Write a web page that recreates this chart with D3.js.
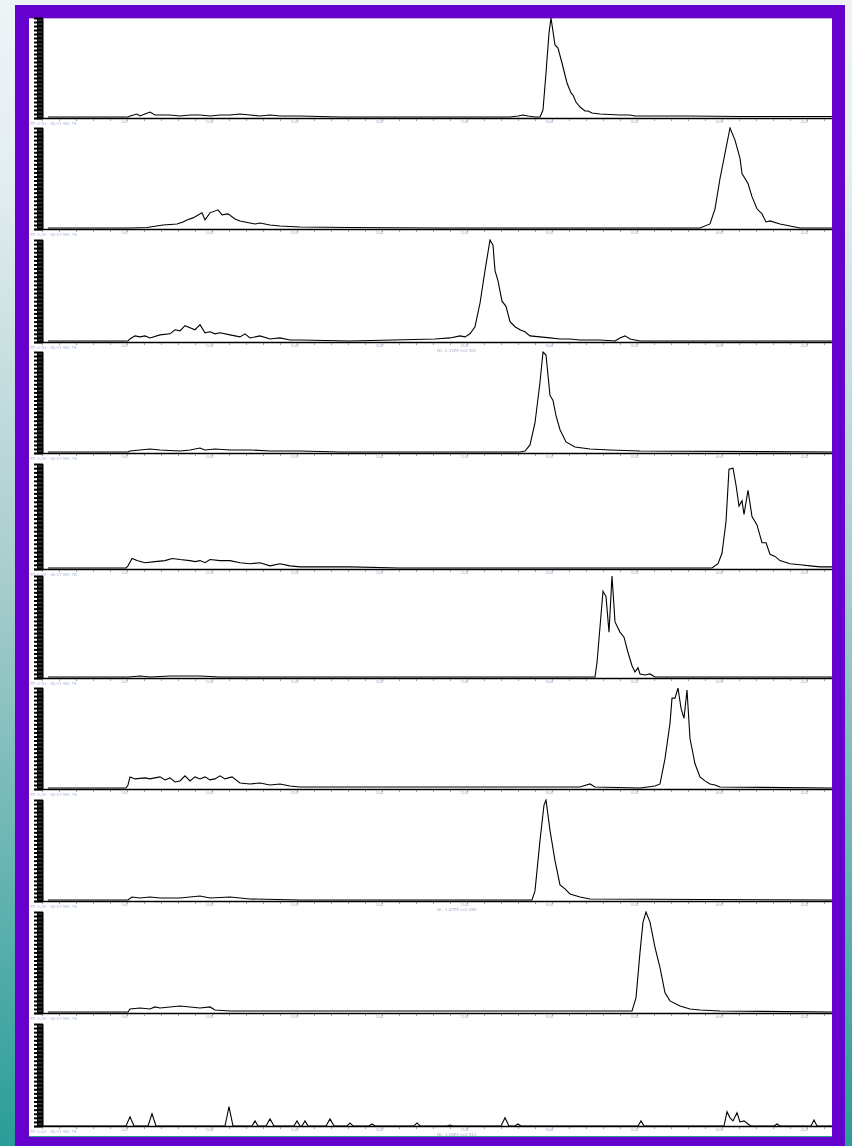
<!DOCTYPE html>
<html>
<head>
<meta charset="utf-8">
<script src="https://cdn.jsdelivr.net/npm/d3@7"></script>
<style>
  html, body { margin: 0; padding: 0; }
  svg { display: block; font-family: "DejaVu Sans", sans-serif; }
</style>
</head>
<body>
<svg id="chart" width="852" height="1146"></svg>
<script>
/**
 * Data: one trace per panel, [scan, relative abundance %].
 */
const trace1 = [[8,1],[88,1],[90,2],[97,4],[100,2],[105,4],[110,6],[115,3],[120,3],[130,3],[140,2],[150,3],[160,3],[170,2],[180,3],[190,3],[200,4],[210,3],[220,2],[230,3],[240,2],[260,2],[300,1],[400,1],[470,1],[478,2],[483,3],[488,2],[495,1],[500,1],[503,8],[506,45],[509,85],[511,100],[515,73],[518,70],[522,55],[527,35],[531,25],[533,23],[536,16],[540,11],[545,7],[548,7],[552,5],[560,4],[580,3],[590,3],[595,2],[650,2],[700,1.5],[792,1.5]];
const trace2 = [[8,1],[90,1],[107,1.5],[123,4],[137,5],[143,7],[147,9],[153,11],[162,16],[165,9],[170,16],[178,19],[182,14],[188,15],[195,10],[200,8],[205,7],[210,6],[215,5],[220,6],[230,4],[240,3],[260,2],[310,1.5],[400,1],[660,1],[670,5],[675,20],[680,50],[685,75],[690,100],[695,88],[700,70],[702,55],[708,45],[712,32],[717,20],[722,15],[726,7],[730,8],[740,5],[750,3],[760,1],[792,1]];
const trace3 = [[8,1],[88,1],[90,3],[95,6],[100,5],[105,6],[110,4],[120,7],[130,8],[135,12],[140,11],[145,16],[150,14],[155,12],[160,17],[165,9],[170,10],[175,8],[180,9],[190,7],[200,5],[205,8],[210,4],[220,6],[230,3],[240,4],[250,2],[260,2],[310,1],[395,3],[410,4],[420,6],[425,5],[430,8],[435,15],[440,38],[445,70],[450,100],[453,95],[455,70],[458,60],[462,40],[466,35],[470,20],[475,15],[480,12],[485,10],[490,6],[500,5],[510,4],[520,3],[530,3],[540,2],[560,2],[575,1],[580,4],[585,6],[590,3],[600,1],[792,1]];
const trace4 = [[8,1],[88,1],[90,2],[100,3],[110,4],[120,3],[140,2],[150,3],[160,5],[165,3],[175,4],[190,3],[210,3],[230,2],[260,2],[300,1],[480,1],[485,2],[490,8],[495,30],[500,70],[503,100],[506,97],[510,57],[513,52],[516,37],[520,23],[526,11],[535,6],[550,4],[570,3],[600,2],[792,1]];
const trace5 = [[8,1],[86,1],[88,3],[92,10],[97,8],[105,6],[115,7],[125,8],[132,10],[140,9],[150,8],[155,7],[160,8],[165,6],[170,9],[180,8],[190,8],[200,6],[210,5],[220,6],[230,3],[240,5],[250,3],[260,2],[310,2],[360,1],[672,1],[678,5],[682,15],[686,45],[689,95],[693,96],[696,80],[699,60],[702,65],[704,52],[708,75],[712,50],[717,42],[722,25],[726,25],[730,14],[735,12],[740,8],[750,5],[760,4],[770,3],[780,2],[792,2]];
const trace6 = [[8,1],[88,1],[100,2],[110,1],[130,2],[160,2],[180,1],[260,1],[555,1],[557,15],[560,50],[563,85],[566,80],[569,45],[572,100],[575,55],[580,45],[584,40],[588,25],[592,12],[595,6],[598,10],[600,4],[605,3],[610,4],[615,1],[792,1]];
const trace7 = [[8,1],[86,1],[88,4],[90,12],[95,10],[105,11],[110,10],[115,11],[120,12],[125,9],[130,11],[135,7],[140,8],[145,13],[150,8],[155,12],[160,10],[165,12],[170,9],[175,10],[180,13],[185,10],[192,12],[200,6],[210,5],[220,6],[230,4],[240,5],[250,3],[260,2],[540,2],[550,5],[555,2],[600,1],[615,3],[620,5],[625,30],[630,65],[632,90],[635,90],[638,100],[641,80],[644,70],[647,98],[650,50],[655,25],[660,12],[665,8],[670,5],[675,4],[680,2],[792,1]];
const trace8 = [[8,1],[88,1],[92,4],[100,3],[110,4],[120,3],[140,3],[160,5],[170,3],[190,4],[210,2],[260,1],[492,1],[495,10],[500,60],[504,95],[506,100],[510,70],[515,40],[520,16],[525,12],[530,7],[540,4],[550,2],[792,1]];
const trace9 = [[8,1],[88,1],[90,4],[100,5],[110,4],[115,6],[120,5],[130,6],[140,7],[150,6],[160,5],[170,6],[175,3],[190,2],[260,2],[592,2],[596,15],[600,60],[603,90],[606,100],[610,90],[615,65],[620,45],[625,20],[630,12],[640,7],[650,4],[660,3],[680,2],[792,1]];
const trace10 = [[0,0],[86,0],[90,9],[94,0],[108,0],[112,12],[116,0],[185,0],[189,19],[193,0],[212,0],[215,5],[218,0],[226,0],[230,7],[234,0],[254,0],[257,5],[260,0],[262,0],[265,5],[268,0],[286,0],[290,7],[294,0],[307,0],[310,3],[313,0],[329,0],[332,2],[335,0],[374,0],[377,3],[380,0],[407,0],[410,1],[413,0],[461,0],[465,8],[469,0],[475,0],[478,2],[481,0],[598,0],[601,5],[604,0],[684,0],[687,14],[690,8],[693,5],[697,13],[700,4],[704,5],[708,2],[711,0],[734,0],[737,2],[740,0],[771,0],[774,6],[777,0],[792,0]];

const traces = [trace1, trace2, trace3, trace4, trace5, trace6, trace7, trace8, trace9, trace10];

// Tiny panel annotations
const rangeLabel = 'RT: 0.00 - 46.47   SM: 7B';
const peakLabels = [null, null, 'NL: 2.31E5 m/z 401', null, null, null, null, 'NL: 1.87E5 m/z 455', null, 'NL: 3.04E4 m/z 512'];

/**
 * Visual configs.
 */
const svgWidth = 852, svgHeight = 1146;
const panelLeft = 40, width = 792;
const panelTops = [18, 128, 240, 352, 464, 576, 688, 800, 912, 1024],
    panelBases = [118, 229, 342, 453, 569, 678, 789, 901, 1013, 1126];

const svg = d3.select('#chart');

// Background gradient
const defs = svg.append('defs');
const grad = defs.append('linearGradient').attr('id', 'bg')
    .attr('x1', 0).attr('y1', 0).attr('x2', 0).attr('y2', 1);
[[0, '#eef3f6'], [0.15, '#e4eef1'], [0.5, '#a9cdcd'], [1, '#2a9d98']].forEach(s => {
    grad.append('stop').attr('offset', s[0]).attr('stop-color', s[1]);
});
svg.append('rect').attr('width', svgWidth).attr('height', svgHeight).attr('fill', 'url(#bg)');

// Frame
svg.append('rect').attr('x', 15).attr('y', 5).attr('width', 830).attr('height', 1146)
    .attr('fill', '#6600cc');
svg.append('rect').attr('x', 29).attr('y', 18).attr('width', 803).attr('height', 1119)
    .attr('fill', '#ffffff');
svg.append('line').attr('x1', 29).attr('x2', 832).attr('y1', 18.5).attr('y2', 18.5)
    .attr('stroke', '#c9a8ee').attr('stroke-width', 1);
svg.append('line').attr('x1', 29).attr('x2', 832).attr('y1', 1136.5).attr('y2', 1136.5)
    .attr('stroke', '#2a9d98').attr('stroke-width', 1);

defs.append('clipPath').attr('id', 'plot-clip')
    .append('rect').attr('x', -8).attr('y', -1).attr('width', width + 8).attr('height', 120);

/**
 * D3.
 */
const xScale = d3.scaleLinear().domain([0, width]).range([0, width]),
    tScale = d3.scaleLinear().domain([0, 790 / 17]).range([2, 792]);

/**
 * Draws one panel.
 */
function drawPanel(g, data, i, height) {
    const yScale = d3.scaleLinear().domain([0, 100]).range([height, 0]),
        line = d3.line().x(d => xScale(d[0])).y(d => yScale(d[1]));

    // y-axis bar
    g.append('rect').attr('x', -3).attr('y', 0).attr('width', 6).attr('height', height)
        .attr('fill', '#111');
    const yAxis = d3.axisLeft(yScale).tickValues(d3.range(0, 101, 4)).tickSize(9).tickFormat('');
    const ya = g.append('g').attr('transform', 'translate(3,0)').call(yAxis);
    ya.select('.domain').attr('stroke', '#777').attr('stroke-width', 1);
    ya.selectAll('.tick line').attr('stroke', '#000').attr('stroke-width', 2);
    // lighter stripes inside the bar
    g.append('g').selectAll('line').data(d3.range(2, 100, 4)).enter().append('line')
        .attr('x1', -2).attr('x2', 2).attr('y1', d => yScale(d)).attr('y2', d => yScale(d))
        .attr('stroke', '#555').attr('stroke-width', 0.8);

    // x-axis
    g.append('line').attr('x1', -6).attr('x2', width).attr('y1', height + 0.5).attr('y2', height + 0.5)
        .attr('stroke', '#000').attr('stroke-width', 1.4);
    const xAxis = d3.axisBottom(tScale).tickValues(d3.range(0, 47, 1)).tickSize(2)
        .tickFormat(d => d % 5 === 0 && d > 0 ? d.toFixed(2) : '');
    const xa = g.append('g').attr('transform', 'translate(0,' + (height + 1) + ')').call(xAxis);
    xa.select('.domain').remove();
    xa.selectAll('.tick line').attr('stroke', '#666').attr('stroke-width', 0.6);
    xa.selectAll('.tick text').attr('font-size', 3).attr('fill', '#9aa0c8').attr('dy', 0)
        .attr('y', 4).attr('dx', -3);

    // labels
    g.append('text').attr('x', -10).attr('y', height + 7).attr('font-size', 4)
        .attr('fill', '#b4b8e6').text(rangeLabel);
    if (peakLabels[i]) {
        g.append('text').attr('x', 397).attr('y', height + 10).attr('font-size', 4)
            .attr('fill', '#a8aacc').text(peakLabels[i]);
    }

    // trace
    g.append('path').datum(data)
        .attr('clip-path', 'url(#plot-clip)')
        .attr('d', line)
        .attr('fill', 'none')
        .attr('stroke', '#000')
        .attr('stroke-width', 1.1)
        .attr('stroke-linejoin', 'miter');
}

traces.forEach((data, i) => {
    const g = svg.append('g').attr('class', 'panel')
        .attr('transform', 'translate(' + panelLeft + ',' + panelTops[i] + ')');
    drawPanel(g, data, i, panelBases[i] - panelTops[i]);
});
</script>
</body>
</html>
